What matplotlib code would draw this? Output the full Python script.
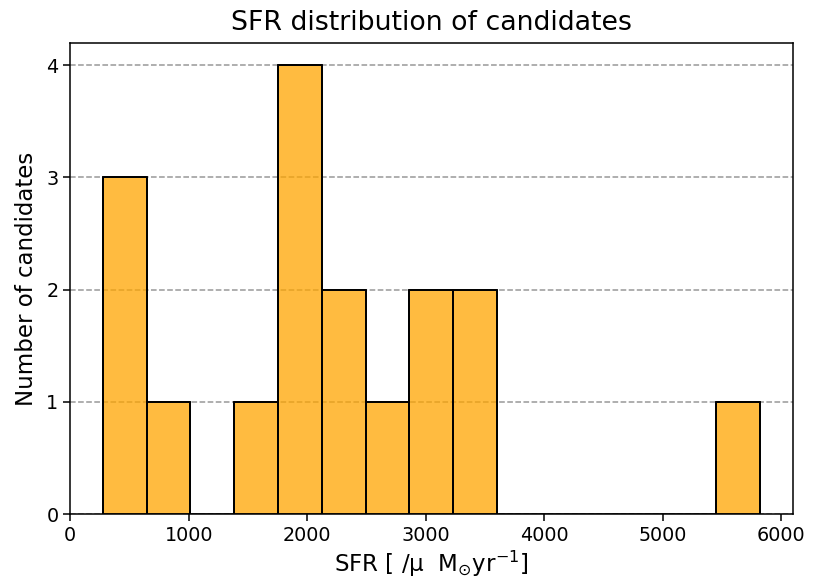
import numpy as np
import matplotlib
matplotlib.use("Agg")
import matplotlib.pyplot as plt

# bins of the SFR histogram
bin_lo = 275
bin_hi = 5820
n_bins = 15
counts = [3, 1, 0, 1, 4, 2, 1, 2, 2, 0, 0, 0, 0, 0, 1]

edges = np.linspace(bin_lo, bin_hi, n_bins + 1)
centers = 0.5 * (edges[:-1] + edges[1:])

fig, ax = plt.subplots(figsize=(8.13, 5.85), dpi=100)
fig.subplots_adjust(left=0.086, right=0.975, top=0.927, bottom=0.121)

ax.hist(centers, bins=edges, weights=counts, color="orange", alpha=0.75,
        edgecolor="black", linewidth=1.4)
# redraw the outlines fully opaque
for i, c in enumerate(counts):
    if c > 0:
        ax.plot([edges[i], edges[i], edges[i + 1], edges[i + 1]], [0, c, c, 0],
                color="black", lw=1.4)

ax.set_axisbelow(True)
ax.yaxis.grid(True, linestyle="--", color="gray", alpha=0.8, lw=1.1)
ax.set_yticks([0, 1, 2, 3, 4])
ax.tick_params(labelsize=13.8, width=1.1, length=4.8)
for s in ax.spines.values():
    s.set_linewidth(1.1)

ax.set_title("SFR distribution of candidates", fontsize=19.3, pad=9)
ax.set_xlabel(r"SFR [ /μ  M$_{\odot}$yr$^{-1}$]", fontsize=16.5, labelpad=3)
ax.set_ylabel("Number of candidates", fontsize=16.5, labelpad=6)

fig.savefig("out.png", dpi=100)
